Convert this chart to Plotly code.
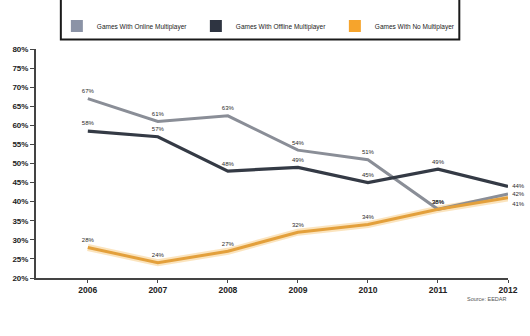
import plotly.graph_objects as go

years = [2006, 2007, 2008, 2009, 2010, 2011, 2012]
online = [67, 61, 62.5, 53.5, 51, 38, 42]
offline = [58.5, 57, 48, 49, 45, 48.5, 44]
nomulti = [28, 24, 27, 32, 34, 38, 41]
online_lbl = ["67%", "61%", "63%", "54%", "51%", "38%", "42%"]
offline_lbl = ["58%", "57%", "48%", "49%", "45%", "49%", "44%"]
nomulti_lbl = ["28%", "24%", "27%", "32%", "34%", "38%", "41%"]
names = ["Games With Online Multiplayer", "Games With Offline Multiplayer", "Games With No Multiplayer"]
line_colors = ["#8a8e97", "#343a45", "#e3a03c"]
swatch_colors = ["#8b93a6", "#2e3441", "#f6a42c"]

W, H = 530, 336
ML, MR, MT, MB = 35, 20, 39, 58
PW, PH = W - ML - MR, H - MT - MB

fig = go.Figure()

label_font = dict(family="Liberation Sans, Arial", size=6, color="#2a2a2a")

# glow under orange line
fig.add_trace(go.Scatter(x=years, y=nomulti, mode="lines",
                         line=dict(color="rgba(246,196,110,0.45)", width=7),
                         showlegend=False, hoverinfo="skip"))

series = [
    (online, online_lbl, ["top center"] * 6 + ["middle right"]),
    (offline, offline_lbl, ["top center"] * 6 + ["middle right"]),
    (nomulti, nomulti_lbl, ["top center"] * 6 + ["bottom right"]),
]
widths = [3, 3.2, 3]
for i, (vals, lbls, pos) in enumerate(series):
    fig.add_trace(go.Scatter(x=years, y=vals, mode="lines+markers+text", text=lbls,
                             textposition=pos, textfont=label_font,
                             marker=dict(size=5, color="rgba(0,0,0,0)"),
                             line=dict(color=line_colors[i], width=widths[i]),
                             showlegend=False, cliponaxis=False))

# legend entries (square swatches)
for i in range(3):
    fig.add_trace(go.Scatter(x=[None], y=[None], mode="markers", name=names[i],
                             marker=dict(symbol="square", size=12, color=swatch_colors[i])))

# legend box
fig.add_shape(type="rect", xref="paper", yref="paper",
              x0=(60 - ML) / PW, x1=(461 - ML) / PW,
              y0=1 + (MT - 29) / PH, y1=1 + (MT + 20) / PH,
              line=dict(color="#1a1a1a", width=2), fillcolor="white", layer="below")

fig.add_annotation(text="Source: EEDAR", xref="paper", yref="paper",
                   x=1, y=-(300 - (MT + PH)) / PH, xanchor="right", yanchor="middle",
                   showarrow=False, font=dict(family="Liberation Sans, Arial", size=5.5, color="#555"))

fig.update_layout(
    width=W, height=H, margin=dict(l=ML, r=MR, t=MT, b=MB),
    paper_bgcolor="white", plot_bgcolor="white",
    showlegend=True,
    legend=dict(orientation="h", x=(56 - ML) / PW, y=1 + (MT - 15) / PH,
                xanchor="left", yanchor="middle",
                entrywidth=94, entrywidthmode="pixels", itemwidth=30,
                font=dict(family="Liberation Sans, Arial", size=6.5, color="#222"),
                bgcolor="rgba(0,0,0,0)", borderwidth=0, itemclick=False),
    xaxis=dict(range=[2005.26, 2012], tickvals=years, ticktext=[str(y) for y in years],
               showgrid=False, zeroline=False, showline=True, linecolor="#444", linewidth=2,
               ticks="outside", ticklen=3, tickcolor="#444",
               tickfont=dict(family="Liberation Sans, Arial", size=8.5, color="#222", weight="bold")),
    yaxis=dict(range=[20, 80], dtick=5, ticksuffix="%", showgrid=False, zeroline=False,
               showline=True, linecolor="#444", linewidth=2,
               ticks="outside", ticklen=4, tickcolor="#444",
               tickfont=dict(family="Liberation Sans, Arial", size=8, color="#222", weight="bold")),
)

fig.write_html("out.html")
